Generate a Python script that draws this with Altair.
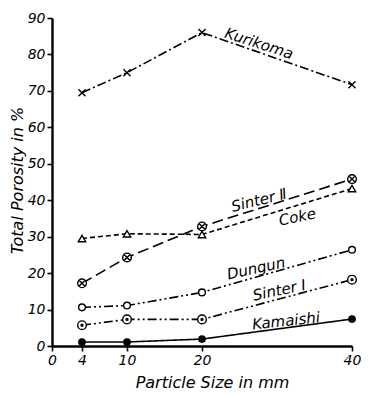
import altair as alt
import pandas as pd

# ---- data ----
sizes = [4, 10, 20, 40]
kurikoma = [69.5, 75.0, 86.0, 71.7]
sinter2 = [17.2, 24.3, 32.8, 45.8]
coke = [29.5, 30.8, 30.6, 43.2]
dungun = [10.6, 11.1, 14.7, 26.4]
sinter1 = [5.7, 7.3, 7.3, 18.2]
kamaishi = [1.1, 1.1, 1.9, 7.4]

series_names = ["Kurikoma", "Sinter Ⅱ", "Coke", "Dungun", "Sinter Ⅰ", "Kamaishi"]
series_values = [kurikoma, sinter2, coke, dungun, sinter1, kamaishi]

x_ticks = [0, 4, 10, 20, 40]
y_ticks = [0, 10, 20, 30, 40, 50, 60, 70, 80, 90]

# in-plot labels (text, x, y in data units, rotation)
label_text = ["Kurikoma", "Sinter Ⅱ", "Coke", "Dungun", "Sinter Ⅰ", "Kamaishi"]
label_x = [27.6, 27.6, 32.7, 27.2, 30.3, 31.2]
label_y = [83.0, 40.0, 35.4, 21.3, 15.3, 6.9]
label_angle = [18, 346, 348, 348, 348, 354]

# ---- styles ----
FONT = "DejaVu Sans"
X_SHAPE = "M-1,-1L1,1M-1,1L1,-1"
CIRCLE_X = "M-1,0A1,1,0,1,1,1,0A1,1,0,1,1,-1,0ZM-0.7,-0.7L0.7,0.7M-0.7,0.7L0.7,-0.7"
CIRCLE_DOT = "M-1,0A1,1,0,1,1,1,0A1,1,0,1,1,-1,0ZM-0.22,0A0.22,0.22,0,1,1,0.22,0A0.22,0.22,0,1,1,-0.22,0Z"

styles = {
    "Kurikoma": dict(dash=[9, 3, 2, 3], shape=X_SHAPE, size=50, fill=None),
    "Sinter Ⅱ": dict(dash=[11, 5], shape=CIRCLE_X, size=75, fill="white"),
    "Coke": dict(dash=[5, 3], shape="triangle-up", size=55, fill="white"),
    "Dungun": dict(dash=[9, 3, 2, 3, 2, 3], shape="circle", size=45, fill="white"),
    "Sinter Ⅰ": dict(dash=[9, 3, 2, 3, 2, 3], shape=CIRCLE_DOT, size=75, fill="white"),
    "Kamaishi": dict(dash=[1, 0], shape="circle", size=40, fill="black"),
}

rows = []
for name, vals in zip(series_names, series_values):
    for s, v in zip(sizes, vals):
        rows.append({"series": name, "size": s, "porosity": v})
df = pd.DataFrame(rows)

labels_df = pd.DataFrame({"text": label_text, "x": label_x, "y": label_y, "angle": label_angle})

xscale = alt.Scale(domain=[0, 40], nice=False, zero=True)
yscale = alt.Scale(domain=[0, 90], nice=False)

x_axis = alt.Axis(
    values=x_ticks, title="Particle Size in mm", format="d",
    titleX=160, titleY=41, titleAlign="center", titleBaseline="alphabetic")
y_axis = alt.Axis(
    values=y_ticks, title="Total Porosity in %", format="d",
    titleX=-35, titleY=162, titleAlign="center", titleBaseline="middle", titleAngle=270)

layers = []
for name in series_names:
    st = styles[name]
    base = alt.Chart(df).transform_filter(alt.datum.series == name)
    line = base.mark_line(color="black", strokeWidth=1.6, strokeDash=st["dash"]).encode(
        x=alt.X("size:Q", scale=xscale, axis=x_axis),
        y=alt.Y("porosity:Q", scale=yscale, axis=y_axis))
    layers.append(line)
for name in series_names:
    st = styles[name]
    base = alt.Chart(df).transform_filter(alt.datum.series == name)
    pkw = dict(shape=st["shape"], size=st["size"], stroke="black", strokeWidth=1.4, opacity=1)
    if st["fill"] is None:
        pkw["filled"] = False
    else:
        pkw["filled"] = True
        pkw["fill"] = st["fill"]
        pkw["fillOpacity"] = 1
    pts = base.mark_point(**pkw).encode(
        x=alt.X("size:Q", scale=xscale, axis=x_axis),
        y=alt.Y("porosity:Q", scale=yscale, axis=y_axis))
    layers.append(pts)

text = alt.Chart(labels_df).mark_text(
    font=FONT, fontStyle="italic", fontSize=15, color="black", align="center", baseline="middle"
).encode(
    x=alt.X("x:Q", scale=xscale, axis=x_axis),
    y=alt.Y("y:Q", scale=yscale, axis=y_axis),
    text="text:N",
    angle=alt.Angle("angle:Q", scale=None),
)
layers.append(text)

chart = alt.layer(*layers).properties(
    width=300,
    height=328,
    autosize=alt.AutoSizeParams(type="none"),
    padding={"left": 44, "top": 10, "right": 10, "bottom": 44},
).configure_view(stroke=None).configure_axis(
    grid=False,
    domainColor="black",
    domainWidth=2.4,
    tickColor="black",
    tickWidth=1.6,
    tickSize=5,
    labelFont=FONT,
    labelFontStyle="italic",
    labelFontSize=14,
    labelColor="black",
    labelPadding=2,
    labelOverlap=False,
    labelFlush=False,
    titleFont=FONT,
    titleFontStyle="italic",
    titleFontWeight="normal",
    titleFontSize=16,
    titleColor="black",
)

chart.save("out.html", embed_options={"renderer": "svg", "actions": False})
